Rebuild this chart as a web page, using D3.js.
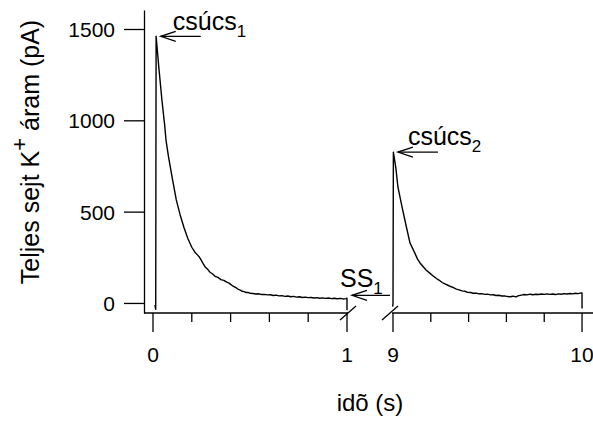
<!DOCTYPE html>
<html lang="hu">
<head>
  <meta charset="UTF-8">
  <title>Teljes sejt K+ áram</title>
  <script src="https://d3js.org/d3.v7.min.js"></script>
  <style>
    body { margin: 0; background: #fff; }
    svg text { font-family: "Liberation Sans", Arial, sans-serif; fill: #000; }
    .trace { fill: none; stroke: #000; stroke-width: 1.4px; stroke-linejoin: round; }
    .ax { stroke: #000; stroke-width: 1.3px; fill: none; }
  </style>
</head>
<body>
  <svg width="593" height="421"></svg>
  <script>
    // time (s) and current (pA)
    const t1 = [0.010, 0.014, 0.016, 0.030, 0.046, 0.060, 0.067, 0.080, 0.100, 0.120,
                0.140, 0.160, 0.180, 0.200, 0.216, 0.230, 0.240, 0.250, 0.260, 0.270,
                0.282, 0.294, 0.306, 0.320, 0.335, 0.350, 0.365, 0.380, 0.390, 0.400,
                0.410, 0.420, 0.430, 0.440, 0.450, 0.460, 0.470, 0.480, 0.490, 0.500,
                0.515, 0.530, 0.545, 0.560, 0.575, 0.590, 0.605, 0.620, 0.635, 0.650,
                0.665, 0.680, 0.695, 0.710, 0.725, 0.740, 0.755, 0.770, 0.785, 0.800,
                0.815, 0.830, 0.845, 0.860, 0.875, 0.890, 0.905, 0.920, 0.935, 0.950,
                0.965, 0.980, 0.995, 1.000, 1.000];
    const i1 = [-10, -35, 1460, 1290, 1111, 975, 892, 800, 680, 564,
                482, 412, 352, 305, 278, 262, 250, 232, 212, 196,
                184, 168, 160, 146, 140, 128, 124, 114, 110, 102,
                94, 88, 82, 74, 70, 64, 62, 57, 58, 53,
                52, 49, 50, 46, 47, 44, 45, 41, 43, 39,
                40, 36, 38, 34, 36, 32, 34, 30, 32, 29,
                30, 27, 29, 26, 28, 25, 27, 24, 26, 23,
                25, 22, 24, 26, -40];

    const t2 = [8.998, 9.000, 9.002, 9.015, 9.026, 9.048, 9.070, 9.090, 9.110, 9.130,
                9.143, 9.160, 9.175, 9.196, 9.212, 9.230, 9.245, 9.260, 9.275, 9.290,
                9.305, 9.320, 9.335, 9.350, 9.365, 9.380, 9.395, 9.410, 9.425, 9.440,
                9.455, 9.470, 9.485, 9.500, 9.515, 9.530, 9.545, 9.560, 9.575, 9.590,
                9.605, 9.620, 9.635, 9.650, 9.665, 9.680, 9.695, 9.710, 9.725, 9.740,
                9.755, 9.770, 9.785, 9.800, 9.815, 9.830, 9.845, 9.860, 9.875, 9.890,
                9.905, 9.920, 9.935, 9.950, 9.965, 9.980, 9.995, 10.000, 10.000];
    const i2 = [-20, -5, 826, 740, 635, 525, 420, 328, 285, 240,
                219, 198, 180, 162, 148, 134, 124, 112, 104, 97,
                90, 84, 76, 72, 66, 64, 58, 57, 53, 54,
                50, 51, 47, 48, 44, 45, 41, 42, 38, 39,
                35, 34, 37, 33, 40, 43, 46, 44, 48, 45,
                48, 46, 49, 47, 50, 47, 49, 46, 50, 48,
                51, 49, 52, 50, 53, 51, 55, 55, -30];

    const yTicks = [0, 500, 1000, 1500];
    const x1Major = [0, 1], x1Minor = [0.2, 0.4, 0.6, 0.8];
    const x2Major = [9, 10], x2Minor = [9.2, 9.4, 9.6, 9.8];

    const svg = d3.select("svg");

    const y = d3.scaleLinear().domain([-55, 1604]).range([313, 10]);
    const x1 = d3.scaleLinear().domain([0, 1]).range([153, 347]);
    const x2 = d3.scaleLinear().domain([9, 10.058]).range([393, 593]);
    const axisY = 313, axisX = 144;

    // y axis
    svg.append("g")
        .attr("transform", `translate(${axisX},0)`)
        .call(d3.axisLeft(y).tickValues(yTicks).tickFormat(d3.format("d"))
          .tickSize(20).tickSizeOuter(0).tickPadding(9))
        .call(g => g.selectAll("line, path").attr("stroke", "#000").attr("stroke-width", 1.3))
        .call(g => g.selectAll("text").attr("dy", "0.36em")
          .style("font-size", "21px").style("font-family", "Liberation Sans, Arial, sans-serif"));

    // x axis, two pieces with a break between
    function xPiece(sc, x0, x1end, major, minor) {
      const g = svg.append("g");
      g.append("line").attr("class", "ax")
        .attr("x1", x0).attr("x2", x1end).attr("y1", axisY).attr("y2", axisY);
      g.selectAll(".mj").data(major).enter().append("line").attr("class", "ax")
        .attr("x1", d => sc(d)).attr("x2", d => sc(d))
        .attr("y1", axisY).attr("y2", axisY + 19);
      g.selectAll(".mn").data(minor).enter().append("line").attr("class", "ax")
        .attr("x1", d => sc(d)).attr("x2", d => sc(d))
        .attr("y1", axisY).attr("y2", axisY + 9);
      g.selectAll("text").data(major).enter().append("text")
        .attr("x", d => sc(d)).attr("y", 362)
        .attr("text-anchor", "middle").attr("font-size", 21)
        .text(d => d);
    }
    xPiece(x1, axisX, x1(1) + 1, x1Major, x1Minor);
    xPiece(x2, x2(9) - 1, x2.range()[1], x2Major, x2Minor);

    // break marks
    [x1(1) + 1, x2(9) - 3].forEach(cx => {
      svg.append("line").attr("class", "ax")
        .attr("x1", cx - 8).attr("y1", axisY + 7)
        .attr("x2", cx + 8).attr("y2", axisY - 7);
    });

    // traces
    const line1 = d3.line().x((d, k) => x1(t1[k])).y(d => y(d));
    const line2 = d3.line().x((d, k) => x2(t2[k])).y(d => y(d));
    svg.append("path").attr("class", "trace").attr("d", line1(i1));
    svg.append("path").attr("class", "trace").attr("d", line2(i2));

    // annotations: open arrow pointing left
    function arrow(xTip, yTip, len) {
      const g = svg.append("g").attr("class", "ax");
      g.append("line").attr("x1", xTip).attr("x2", xTip + len).attr("y1", yTip).attr("y2", yTip);
      g.append("path").attr("d", `M${xTip + 15},${yTip - 5}L${xTip},${yTip}L${xTip + 15},${yTip + 5}`);
    }
    function label(x, yb, main, sub) {
      const t = svg.append("text").attr("x", x).attr("y", yb).attr("font-size", 25).text(main);
      t.append("tspan").attr("font-size", 17).attr("dy", 7).text(sub);
    }

    arrow(x1(0.04), y(1460), 40);
    label(x1(0.04) + 12, 30, "csúcs", "1");

    arrow(x2(9.026), y(826), 40);
    label(x2(9.026) + 10, 145, "csúcs", "2");

    arrow(x1(1) + 5, y(42), 38);
    label(x1(1) - 7, 287, "SS", "1");

    // axis titles
    const yt = svg.append("text")
        .attr("transform", "translate(39,152) rotate(-90)")
        .attr("text-anchor", "middle").attr("font-size", 25);
    yt.append("tspan").text("Teljes sejt K");
    yt.append("tspan").attr("font-size", 22).attr("dy", -12).text("+");
    yt.append("tspan").attr("dy", 12).text(" áram (pA)");

    svg.append("text")
        .attr("x", 370).attr("y", 411)
        .attr("text-anchor", "middle").attr("font-size", 24)
        .text("idõ (s)");
  </script>
</body>
</html>
